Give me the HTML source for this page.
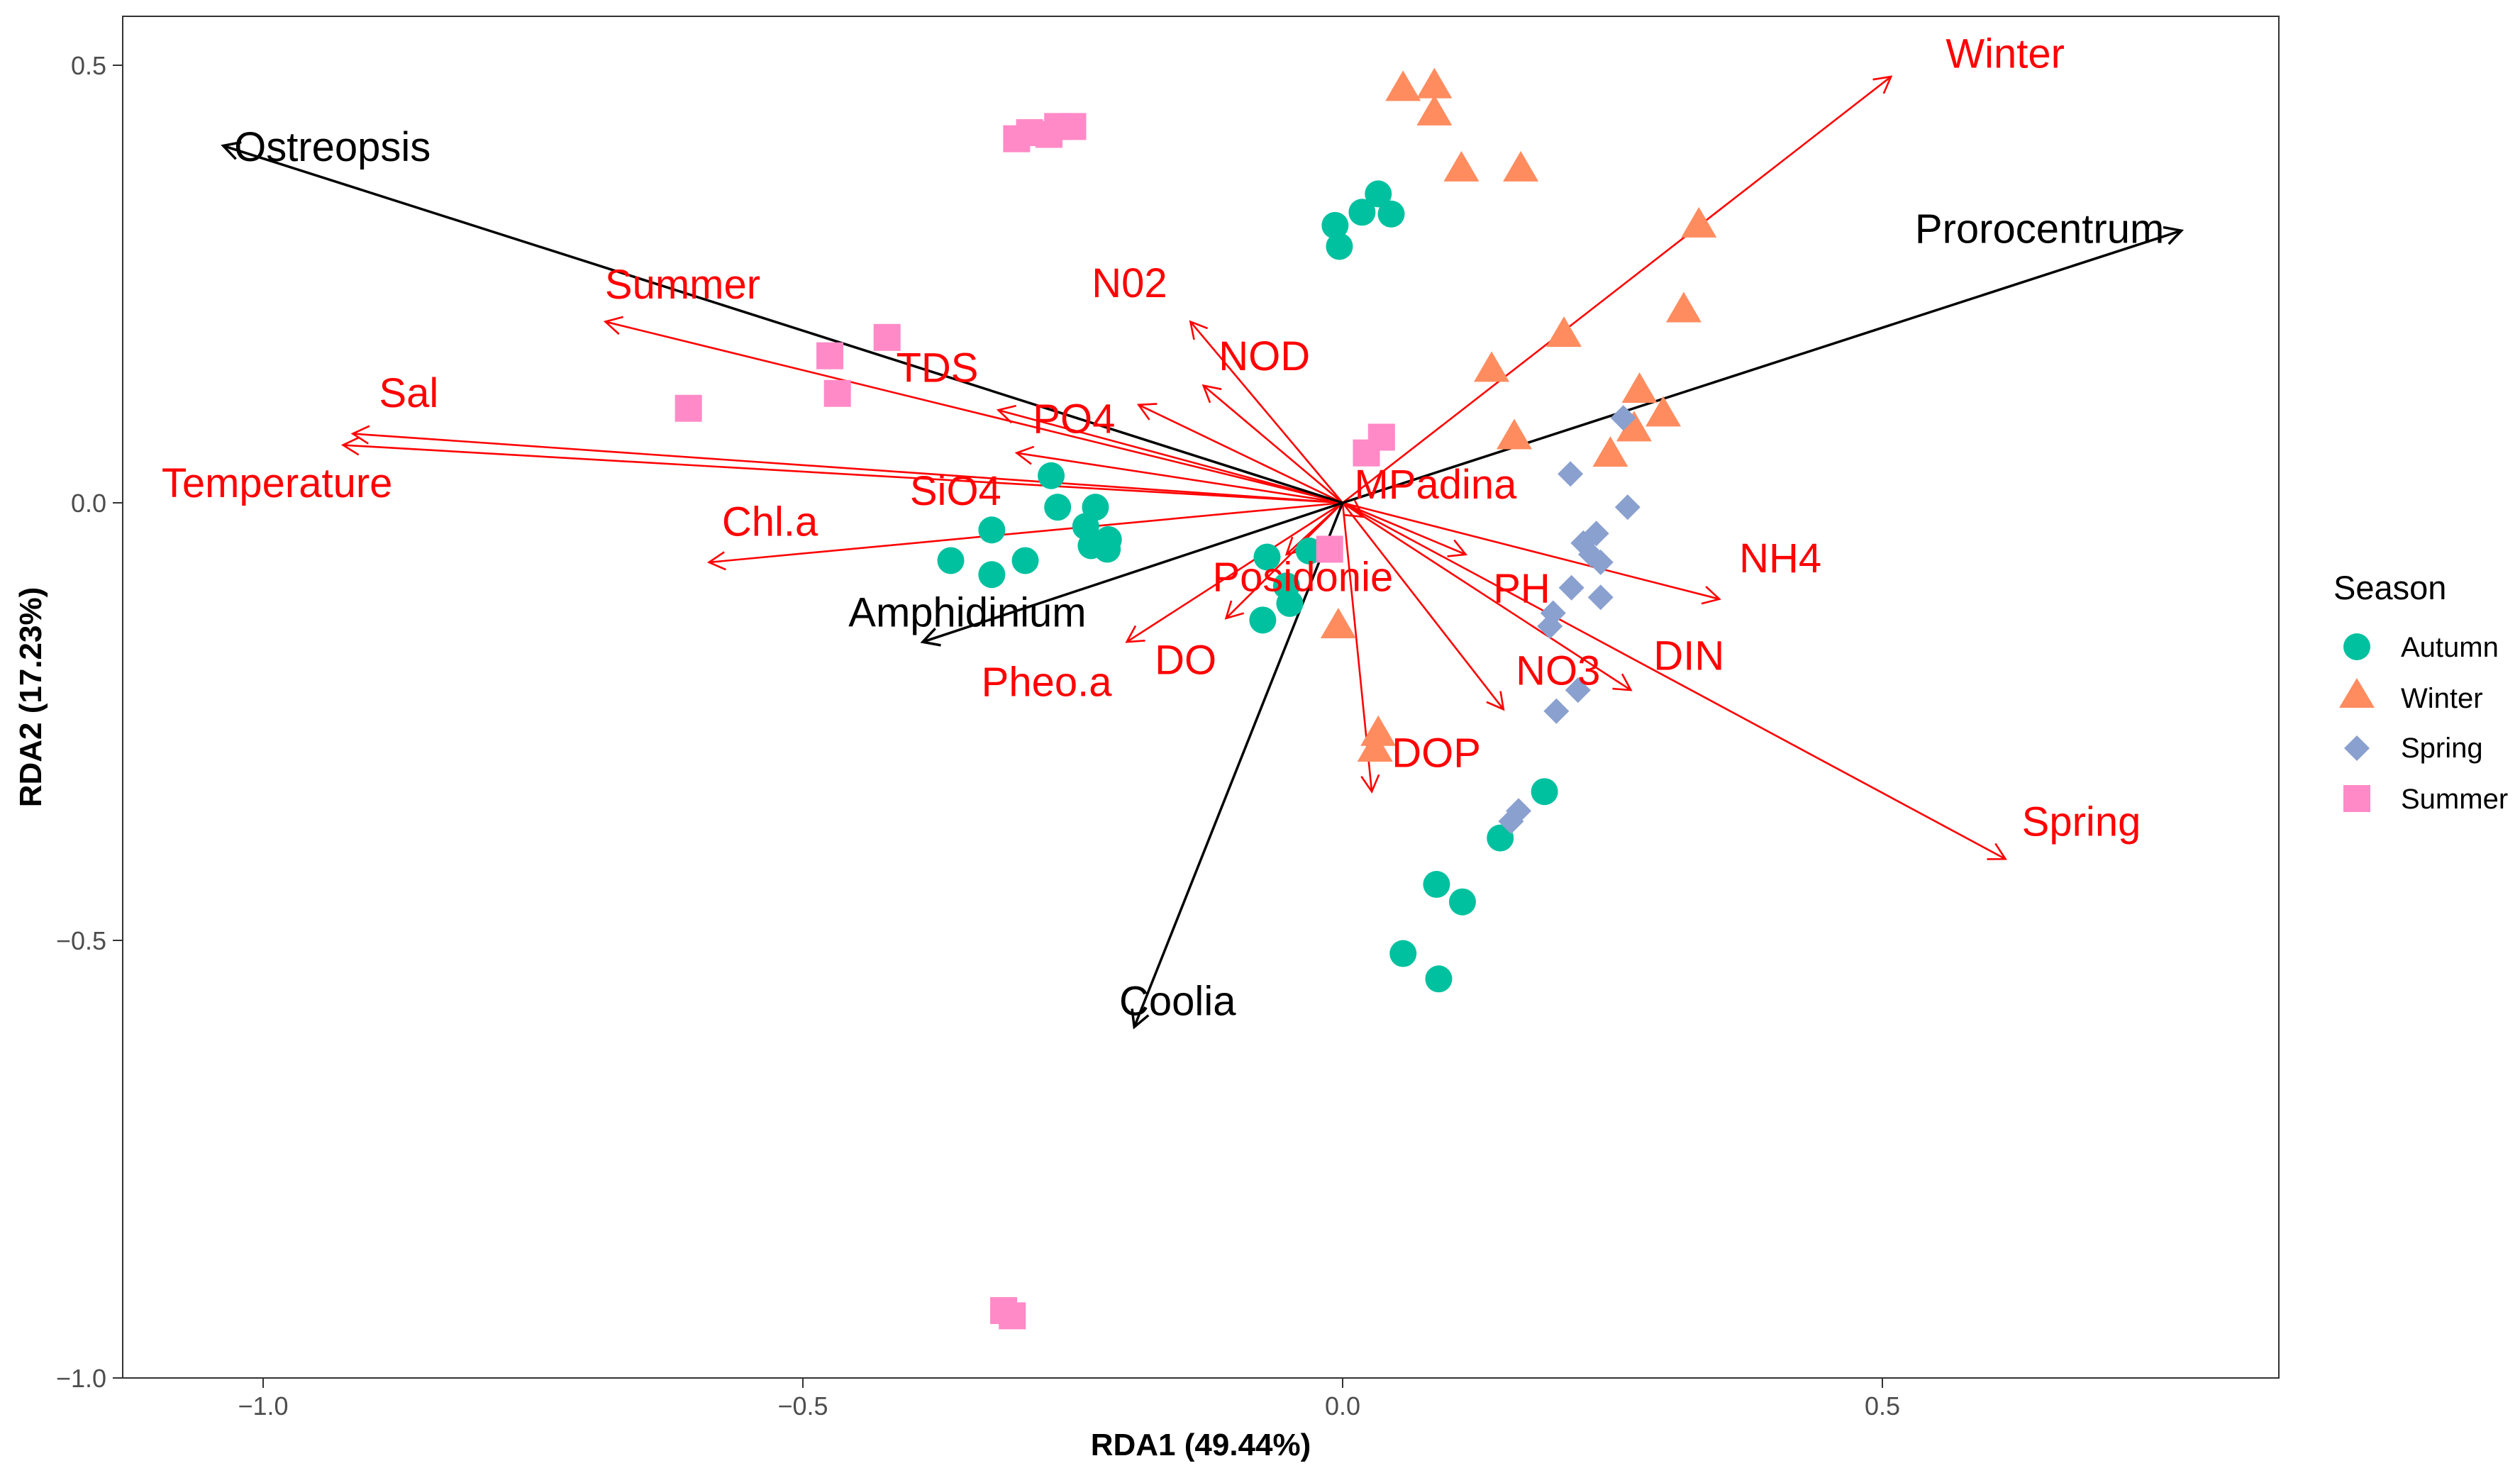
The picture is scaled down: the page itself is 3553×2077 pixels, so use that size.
<!DOCTYPE html>
<html><head><meta charset="utf-8"><style>
html,body{margin:0;padding:0;background:#fff}
svg{display:block;font-family:"Liberation Sans",Arial,sans-serif}
</style></head><body>
<svg id="chart" width="3553" height="2077" viewBox="0 0 3553 2077">
<rect x="173" y="23" width="3040" height="1920" fill="#fff" stroke="#333" stroke-width="2"/>
<g id="axes"></g>
<g id="arrows"></g>
<g id="points"></g>
<g id="labels"></g>
<text x="1693" y="2052" font-size="44" font-weight="bold" text-anchor="middle">RDA1 (49.44%)</text>
<text transform="translate(58,983) rotate(-90)" font-size="44" font-weight="bold" text-anchor="middle">RDA2 (17.23%)</text>
<g>
<text x="3290" y="845" font-size="47">Season</text>
<circle cx="3323" cy="912" r="19" fill="#00C19F"/>
<text x="3385" y="926" font-size="40">Autumn</text>
<polygon points="3323,956 3348,998 3298,998" fill="#FF8C5F"/>
<text x="3385" y="998" font-size="40">Winter</text>
<polygon points="3323,1037 3341,1055 3323,1073 3305,1055" fill="#8AA0CF"/>
<text x="3385" y="1068" font-size="40">Spring</text>
<rect x="3304" y="1107" width="38" height="38" fill="#FF8AC7"/>
<text x="3385" y="1140" font-size="40">Summer</text>
</g>
</svg>
<script>
const xTicks=[-1.0,-0.5,0.0,0.5];
const xTickLabels=["\u22121.0","\u22120.5","0.0","0.5"];
const yTicks=[0.5,0.0,-0.5,-1.0];
const yTickLabels=["0.5","0.0","\u22120.5","\u22121.0"];
const arrowNames=["Ostreopsis","Prorocentrum","Amphidinium","Coolia"];
const arrowX=[-1.037,0.777,-0.389,-0.193];
const arrowY=[0.408,0.311,-0.159,-0.599];
const envNames=["Winter","Summer","Sal","Temperature","Chl.a","SiO4","TDS","N02","NOD","PO4","Pheo.a","DO","Posidonie","MPadina","PH","NH4","DIN","NO3","DOP","Spring"];
const envX=[0.508,-0.683,-0.917,-0.926,-0.587,-0.302,-0.319,-0.141,-0.129,-0.189,-0.200,-0.108,-0.052,0.019,0.114,0.349,0.267,0.149,0.027,0.614];
const envY=[0.487,0.207,0.079,0.066,-0.068,0.057,0.106,0.207,0.134,0.112,-0.159,-0.132,-0.059,-0.016,-0.059,-0.110,-0.214,-0.236,-0.330,-0.407];
const autumnX=[-0.007,0.018,0.033,0.045,-0.003,-0.270,-0.264,-0.229,-0.325,-0.238,-0.217,-0.233,-0.218,-0.363,-0.325,-0.294,-0.070,-0.031,-0.052,-0.049,-0.074,0.187,0.146,0.087,0.111,0.056,0.089];
const autumnY=[0.317,0.332,0.353,0.330,0.293,0.031,-0.005,-0.005,-0.031,-0.027,-0.042,-0.049,-0.053,-0.066,-0.082,-0.066,-0.062,-0.055,-0.095,-0.115,-0.134,-0.330,-0.383,-0.436,-0.456,-0.515,-0.544];
const winterX=[0.056,0.085,0.085,0.110,0.165,0.330,0.316,0.205,0.138,0.275,0.270,0.297,0.159,0.248,-0.004,0.033,0.030];
const winterY=[0.473,0.476,0.445,0.381,0.381,0.317,0.220,0.192,0.152,0.128,0.084,0.101,0.075,0.055,-0.141,-0.264,-0.282];
const springX=[0.260,0.211,0.264,0.235,0.223,0.230,0.239,0.212,0.239,0.195,0.192,0.218,0.198,0.163,0.156];
const springY=[0.097,0.033,-0.005,-0.035,-0.046,-0.059,-0.068,-0.097,-0.108,-0.126,-0.141,-0.214,-0.238,-0.352,-0.364];
const summerX=[-0.302,-0.290,-0.272,-0.264,-0.250,-0.422,-0.475,-0.468,-0.606,0.036,0.022,-0.012,-0.314,-0.306];
const summerY=[0.416,0.423,0.421,0.430,0.430,0.189,0.168,0.125,0.108,0.075,0.057,-0.053,-0.923,-0.929];

const X=v=>1893+v*1522, Y=v=>709-v*1234;
const NS="http://www.w3.org/2000/svg";
function mk(tag,parent,attrs){const e=document.createElementNS(NS,tag);for(const k in attrs)e.setAttribute(k,attrs[k]);parent.appendChild(e);return e;}
const axes=document.getElementById('axes');
xTicks.forEach((t,i)=>{
  const l=mk('line',axes,{x1:X(t),x2:X(t),y1:1943,y2:1957,stroke:'#333','stroke-width':2});
  
  
  const tx=mk('text',axes,{x:X(t),y:1995,'font-size':36,fill:'#4d4d4d','text-anchor':'middle'});
  tx.textContent=xTickLabels[i];
  
  
});
yTicks.forEach((t,i)=>{
  const l=mk('line',axes,{x1:159,x2:173,y1:Y(t),y2:Y(t),stroke:'#333','stroke-width':2});
  
  
  const tx=mk('text',axes,{x:150,y:Y(t)+13,'font-size':36,fill:'#4d4d4d','text-anchor':'end'});
  tx.textContent=yTickLabels[i];
  
  
});
const arrows=document.getElementById('arrows');
const labels=document.getElementById('labels');
function arrow(vx,vy,color,w,name){
  const g=mk('g',arrows,{});
  
  
  const x0=X(0),y0=Y(0),x1=X(vx),y1=Y(vy);
  mk('line',g,{x1:x0,y1:y0,x2:x1,y2:y1,stroke:color,'stroke-width':w});
  const a=Math.atan2(y1-y0,x1-x0),L=26,s=0.5;
  const p=`${x1-L*Math.cos(a-s)},${y1-L*Math.sin(a-s)} ${x1},${y1} ${x1-L*Math.cos(a+s)},${y1-L*Math.sin(a+s)}`;
  mk('polyline',g,{points:p,fill:'none',stroke:color,'stroke-width':w});
}
const envOff={Winter:[161,-32],Summer:[109,-52],Sal:[79,-57],Temperature:[-93,54],"Chl.a":[86,-57],SiO4:[-86,54],TDS:[-86,-59],N02:[-86,-54],NOD:[86,-41],PO4:[-91,20],"Pheo.a":[-113,57],DO:[-57,59],Posidonie:[23,32],MPadina:[102,-45],PH:[79,48],NH4:[86,-57],DIN:[82,-48],NO3:[77,-54],DOP:[91,-54],Spring:[107,-52]};
const spOff={Ostreopsis:[154,2],Prorocentrum:[-200,-2],Amphidinium:[63,-41],Coolia:[61,-36]};
envNames.forEach((n,i)=>arrow(envX[i],envY[i],'#ff0000',2.6,n));
arrowNames.forEach((n,i)=>arrow(arrowX[i],arrowY[i],'#000',3.5,n));
function label(n,vx,vy,off,color){
  const t=mk('text',labels,{x:X(vx)+off[0],y:Y(vy)+off[1],'font-size':58,fill:color,'text-anchor':'middle','dominant-baseline':'central'});
  t.textContent=n;
  
  
}
const pts=document.getElementById('points');
function pt(shape,x,y,color,name){
  const cx=X(x),cy=Y(y);let e;
  if(shape==='c')e=mk('circle',pts,{cx:cx,cy:cy,r:19,fill:color});
  else if(shape==='t')e=mk('polygon',pts,{points:`${cx},${cy-26} ${cx+25},${cy+17} ${cx-25},${cy+17}`,fill:color});
  else if(shape==='d')e=mk('polygon',pts,{points:`${cx},${cy-18} ${cx+18},${cy} ${cx},${cy+18} ${cx-18},${cy}`,fill:color});
  else e=mk('rect',pts,{x:cx-19,y:cy-19,width:38,height:38,fill:color});
  
  
}
autumnX.forEach((v,i)=>pt('c',v,autumnY[i],'#00C19F','autumn-point'));
winterX.forEach((v,i)=>pt('t',v,winterY[i],'#FF8C5F','winter-point'));
springX.forEach((v,i)=>pt('d',v,springY[i],'#8AA0CF','spring-point'));
summerX.forEach((v,i)=>pt('s',v,summerY[i],'#FF8AC7','summer-point'));
envNames.forEach((n,i)=>label(n,envX[i],envY[i],envOff[n],'#ff0000'));
arrowNames.forEach((n,i)=>label(n,arrowX[i],arrowY[i],spOff[n],'#000'));
</script>
</body></html>
